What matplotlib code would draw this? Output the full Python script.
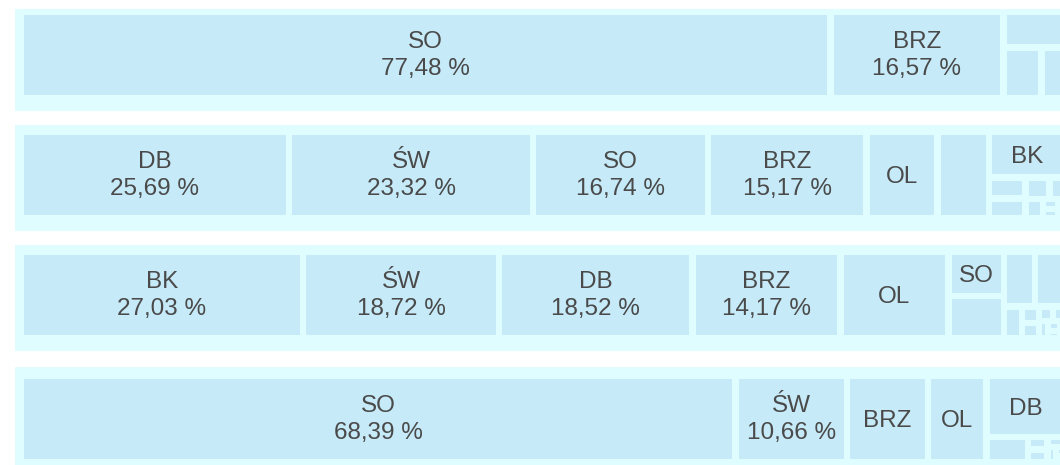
import matplotlib
matplotlib.use("Agg")
import matplotlib.pyplot as plt
from matplotlib.patches import Rectangle

# ---------------- data (percent shares per row) ----------------
row1_names = ["SO", "BRZ", "", "", ""]
row1_values = [77.48, 16.57, 2.46, 2.12, 1.37]

row2_names = ["DB", "ŚW", "SO", "BRZ", "OL", "", "BK",
              "", "", "", "", "", "", "", ""]
row2_values = [25.69, 23.32, 16.74, 15.17, 6.79, 4.93, 3.90,
               0.85, 0.81, 0.56, 0.38, 0.37, 0.17, 0.16, 0.16]

row3_names = ["BK", "ŚW", "DB", "BRZ", "OL", "SO", "", "", "",
              "", "", "", "", "", "", "", "", ""]
row3_values = [27.03, 18.72, 18.52, 14.17, 10.33, 2.71, 2.60, 1.88, 1.88,
               0.64, 0.30, 0.28, 0.22, 0.20, 0.18, 0.14, 0.10, 0.10]

row4_names = ["SO", "ŚW", "BRZ", "OL", "DB", "", "", "", "", "", "", ""]
row4_values = [68.39, 10.66, 7.78, 5.57, 5.40, 1.15, 0.27, 0.27,
               0.20, 0.15, 0.10, 0.06]

rows = [(row1_names, row1_values), (row2_names, row2_values),
        (row3_names, row3_values), (row4_names, row4_values)]

# ---------------- style / layout ----------------
W, H = 1060, 465
BAND_COLOR = "#DFFDFE"
CELL_COLOR = "#C6EAF8"
TEXT_COLOR = "#4a4a4a"
FONT = ["Liberation Sans", "DejaVu Sans"]
FS = 17.5
BAND_TOPS = [9, 125, 245, 367]
CELL_TOPS = [15, 135, 255, 379]
CELL_H = 80
GAP = 6.5
TM_X = 24 - GAP / 2
TM_W = 1045
BAND_X = 14.7
PAD_X = 7
CAP = 16.7


# ---------------- squarified treemap ----------------
def layout_row(sizes, x, y, dx, dy):
    width = sum(sizes) / dy
    out = []
    for s in sizes:
        out.append((x, y, width, s / width))
        y += s / width
    return out


def layout_col(sizes, x, y, dx, dy):
    height = sum(sizes) / dx
    out = []
    for s in sizes:
        out.append((x, y, s / height, height))
        x += s / height
    return out


def layout(sizes, x, y, dx, dy):
    return layout_row(sizes, x, y, dx, dy) if dx >= dy else layout_col(sizes, x, y, dx, dy)


def leftover(sizes, x, y, dx, dy):
    if dx >= dy:
        width = sum(sizes) / dy
        return x + width, y, dx - width, dy
    height = sum(sizes) / dx
    return x, y + height, dx, dy - height


def worst(sizes, x, y, dx, dy):
    return max(max(r[2] / r[3], r[3] / r[2]) for r in layout(sizes, x, y, dx, dy))


def squarify(sizes, x, y, dx, dy):
    if not sizes:
        return []
    if len(sizes) == 1:
        return layout(sizes, x, y, dx, dy)
    i = 1
    while i < len(sizes) and worst(sizes[:i], x, y, dx, dy) >= worst(sizes[:i + 1], x, y, dx, dy):
        i += 1
    cur, rest = sizes[:i], sizes[i:]
    lx, ly, ldx, ldy = leftover(cur, x, y, dx, dy)
    return layout(cur, x, y, dx, dy) + squarify(rest, lx, ly, ldx, ldy)


def fmt(v):
    return f"{v:.2f}".replace(".", ",") + " %"


fig = plt.figure(figsize=(W / 100, H / 100), dpi=100)
ax = fig.add_axes([0, 0, 1, 1])
ax.set_xlim(0, W)
ax.set_ylim(H, 0)
ax.axis("off")
renderer = fig.canvas.get_renderer()


def text_width(s):
    t = ax.text(0, 0, s, fontsize=FS, family=FONT)
    w = t.get_window_extent(renderer).width
    t.remove()
    return w


for (names, values), btop, ctop in zip(rows, BAND_TOPS, CELL_TOPS):
    ax.add_patch(Rectangle((BAND_X, btop), W, ctop + CELL_H + 16 - btop,
                           facecolor=BAND_COLOR, edgecolor="none", zorder=1))
    x0, y0 = TM_X, ctop - GAP / 2
    dx, dy = TM_W, CELL_H + GAP
    total = sum(values)
    sizes = [v / total * dx * dy for v in values]
    rects = squarify(sizes, x0, y0, dx, dy)
    for name, val, (rx, ry, rw, rh) in zip(names, values, rects):
        w, h = rw - GAP, rh - GAP
        if w <= 0.5 or h <= 0.5:
            continue
        cx0, cy0 = rx + GAP / 2, ry + GAP / 2
        ax.add_patch(Rectangle((cx0, cy0), w, h, facecolor=CELL_COLOR,
                               edgecolor="none", zorder=2))
        if not name:
            continue
        cx, cy = cx0 + w / 2, cy0 + h / 2
        pct = fmt(val)
        if text_width(pct) + 2 * PAD_X <= w and h >= 60:
            ax.text(cx, cy - 6.7, name, ha="center", va="baseline",
                    fontsize=FS, family=FONT, color=TEXT_COLOR, zorder=3)
            ax.text(cx, cy + 20, pct, ha="center", va="baseline",
                    fontsize=FS, family=FONT, color=TEXT_COLOR, zorder=3)
        elif text_width(name) + 2 * PAD_X <= w and h >= 32:
            ax.text(cx, cy + CAP / 2, name, ha="center", va="baseline",
                    fontsize=FS, family=FONT, color=TEXT_COLOR, zorder=3)

fig.savefig("out.png", dpi=100)
